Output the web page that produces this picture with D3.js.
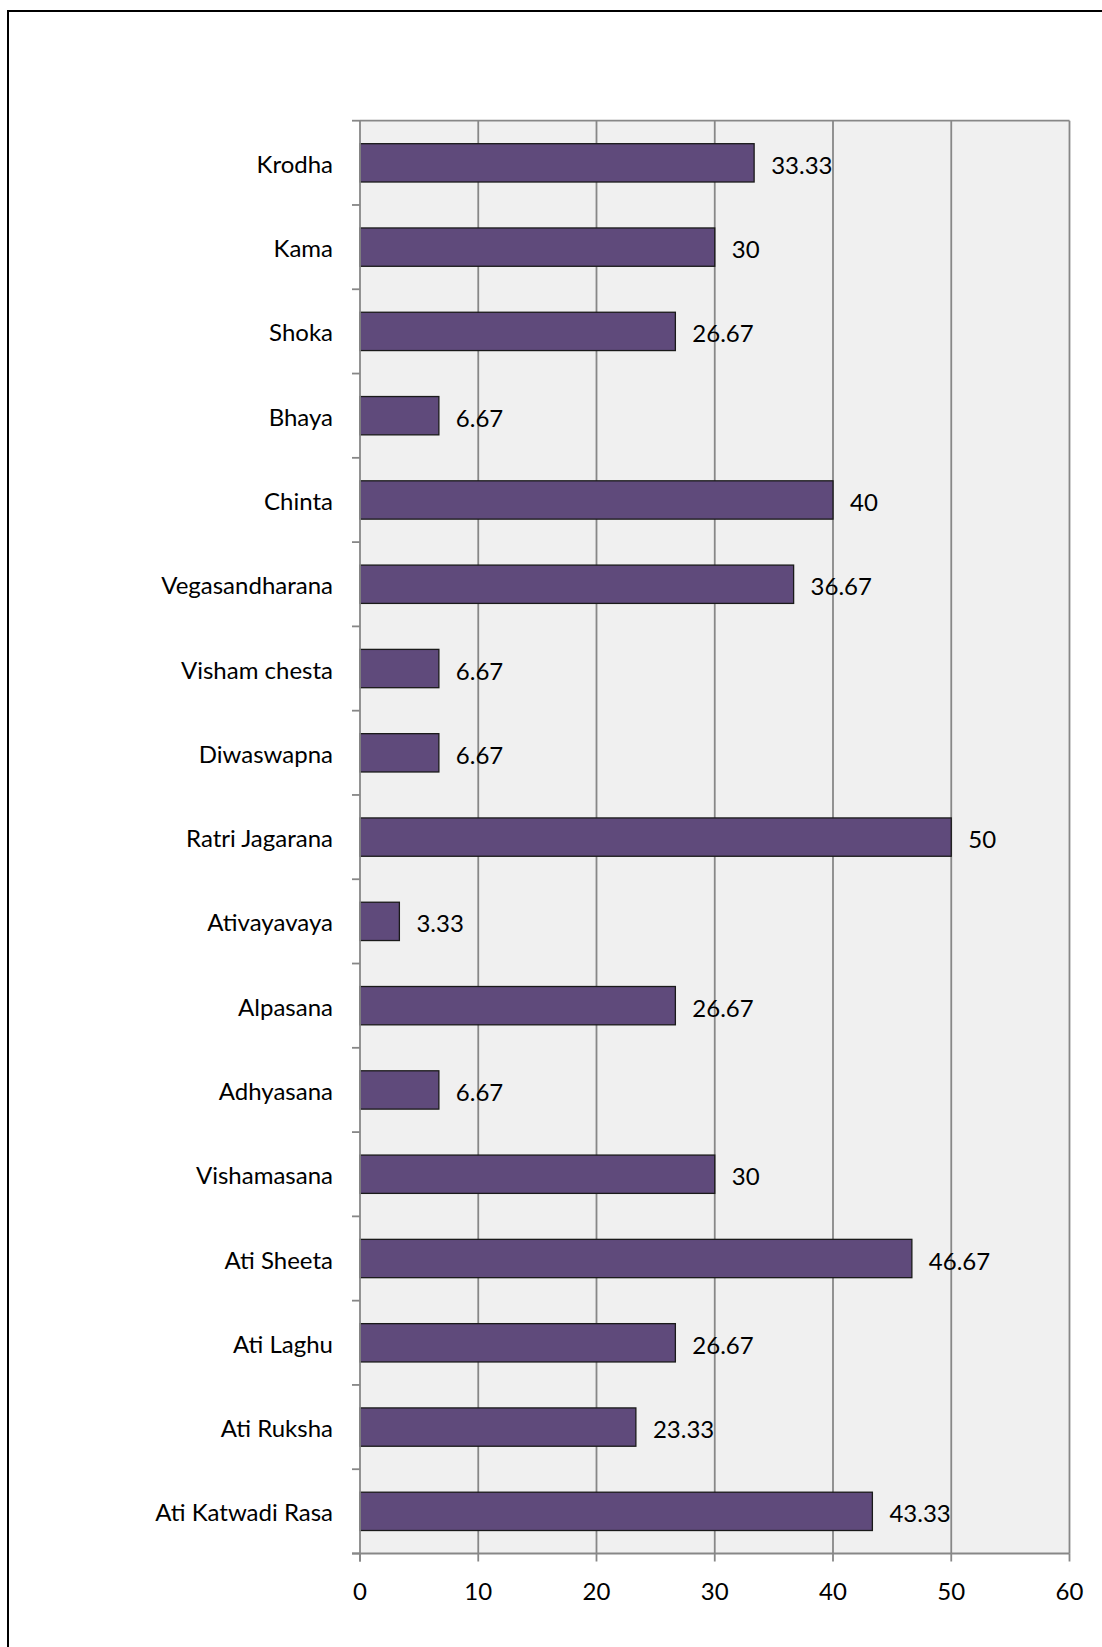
<!DOCTYPE html>
<html>
<head>
<meta charset="utf-8">
<script src="https://cdn.jsdelivr.net/npm/d3@7"></script>
<style>
html,body{margin:0;padding:0;background:#fff;}
svg{display:block;}
</style>
</head>
<body>
<svg id="chart" width="1102" height="1647"></svg>
<script>
const categories = ["Krodha","Kama","Shoka","Bhaya","Chinta","Vegasandharana","Visham chesta","Diwaswapna","Ratri Jagarana","Ativayavaya","Alpasana","Adhyasana","Vishamasana","Ati Sheeta","Ati Laghu","Ati Ruksha","Ati Katwadi Rasa"];
const values = [33.33,30,26.67,6.67,40,36.67,6.67,6.67,50,3.33,26.67,6.67,30,46.67,26.67,23.33,43.33];
const valueLabels = ["33.33","30","26.67","6.67","40","36.67","6.67","6.67","50","3.33","26.67","6.67","30","46.67","26.67","23.33","43.33"];
const xTicks = [0,10,20,30,40,50,60];

const FONT = "Lato, 'Open Sans', sans-serif";
const FS = 24;
const svg = d3.select("#chart");

// outer frame (right/bottom edges fall outside the picture)
svg.append("rect").attr("x",8).attr("y",11).attr("width",1110).attr("height",1660)
  .attr("fill","#fff").attr("stroke","#000").attr("stroke-width",2);

const L=360, R=1069.5, T=120.7, B=1553.5;
const x = d3.scaleLinear().domain([0,60]).range([L,R]);
const y = d3.scaleBand().domain(categories).range([T,B]).paddingInner(1.2/2.2).paddingOuter(0.6/2.2);
const band = (B-T)/categories.length;

svg.append("rect").attr("x",L).attr("y",T).attr("width",R-L).attr("height",B-T).attr("fill","#F0F0F0");

// gridlines
svg.append("g").selectAll("line").data(xTicks.slice(1)).join("line")
  .attr("x1",d=>x(d)).attr("x2",d=>x(d)).attr("y1",T).attr("y2",B)
  .attr("stroke","#878787").attr("stroke-width",1.8);
// top border of plot
svg.append("line").attr("x1",L).attr("x2",R).attr("y1",T).attr("y2",T).attr("stroke","#878787").attr("stroke-width",1.8);

// bars
svg.append("g").selectAll("rect").data(values).join("rect")
  .attr("x",x(0)).attr("y",(d,i)=>y(categories[i]))
  .attr("width",d=>x(d)-x(0)).attr("height",y.bandwidth())
  .attr("fill","#5F4A7B").attr("stroke","#1a1a1a").attr("stroke-width",1.3);

// value labels
svg.append("g").selectAll("text").data(values).join("text")
  .attr("x",d=>x(d)+17).attr("y",(d,i)=>y(categories[i])+y.bandwidth()/2+11)
  .attr("font-family",FONT).attr("font-size",FS).attr("fill","#000")
  .text((d,i)=>valueLabels[i]);

// y axis
const ya = svg.append("g");
ya.append("line").attr("x1",L).attr("x2",L).attr("y1",T).attr("y2",B+8).attr("stroke","#878787").attr("stroke-width",1.8);
ya.selectAll("line.t").data(d3.range(categories.length+1)).join("line").attr("class","t")
  .attr("x1",L-8).attr("x2",L).attr("y1",i=>T+i*band).attr("y2",i=>T+i*band)
  .attr("stroke","#878787").attr("stroke-width",1.8);
ya.selectAll("text").data(categories).join("text")
  .attr("x",333).attr("y",d=>y(d)+y.bandwidth()/2+10)
  .attr("text-anchor","end").attr("font-family",FONT).attr("font-size",FS).attr("fill","#000")
  .text(d=>d);

// x axis
const xa = svg.append("g");
xa.append("line").attr("x1",L-8).attr("x2",R).attr("y1",B).attr("y2",B).attr("stroke","#878787").attr("stroke-width",1.8);
xa.selectAll("line.t").data(xTicks).join("line").attr("class","t")
  .attr("x1",d=>x(d)).attr("x2",d=>x(d)).attr("y1",B).attr("y2",B+8)
  .attr("stroke","#878787").attr("stroke-width",1.8);
xa.selectAll("text").data(xTicks).join("text")
  .attr("x",d=>x(d)).attr("y",1600)
  .attr("text-anchor","middle").attr("font-family",FONT).attr("font-size",FS).attr("fill","#000")
  .text(d=>d);
</script>
</body>
</html>
